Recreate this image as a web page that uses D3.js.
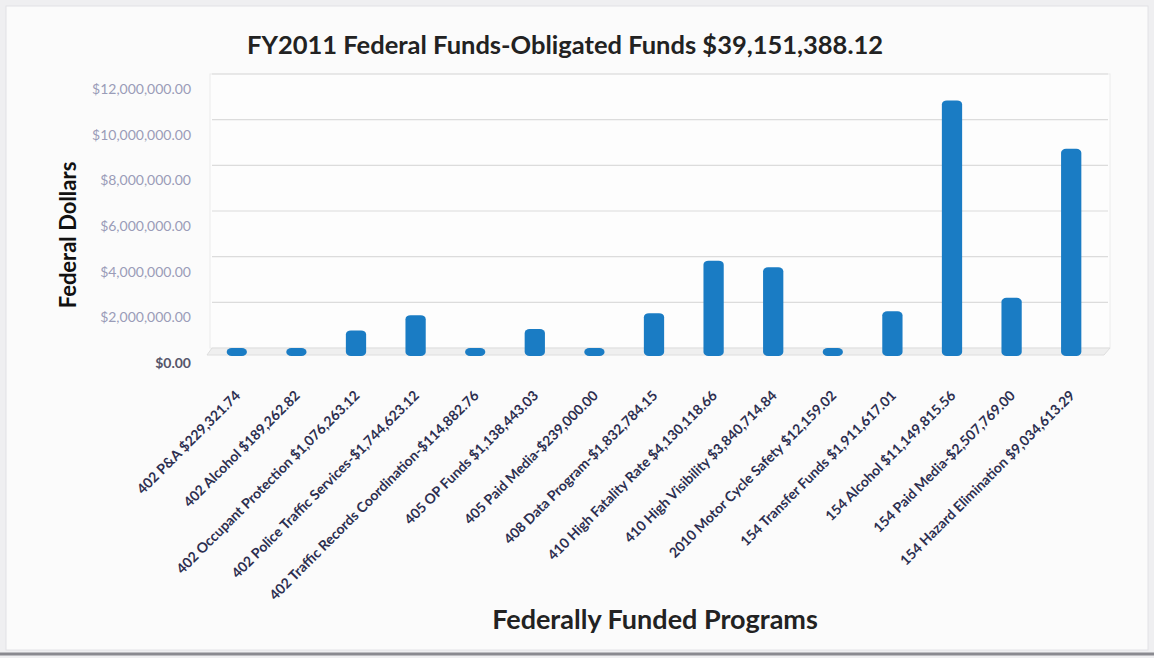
<!DOCTYPE html>
<html lang="en">
<head>
<meta charset="utf-8">
<title>FY2011 Federal Funds</title>
<script src="https://d3js.org/d3.v7.min.js"></script>
<style>
  body { margin: 0; background: #efeff1; }
  text { font-family: Lato, "Open Sans", sans-serif; }
</style>
</head>
<body>
<script>
// chart data
const programs = [
  "402 P&A $229,321.74",
  "402 Alcohol $189,262.82",
  "402 Occupant Protection $1,076,263.12",
  "402 Police Traffic Services-$1,744,623.12",
  "402 Traffic Records Coordination-$114,882.76",
  "405 OP Funds $1,138,443.03",
  "405 Paid Media-$239,000.00",
  "408 Data Program-$1,832,784.15",
  "410 High Fatality Rate $4,130,118.66",
  "410 High Visibility $3,840,714.84",
  "2010 Motor Cycle Safety $12,159.02",
  "154 Transfer Funds $1,911,617.01",
  "154 Alcohol $11,149,815.56",
  "154 Paid Media-$2,507,769.00",
  "154 Hazard Elimination $9,034,613.29"
];
const amounts = [229321.74, 189262.82, 1076263.12, 1744623.12, 114882.76, 1138443.03,
  239000.00, 1832784.15, 4130118.66, 3840714.84, 12159.02, 1911617.01,
  11149815.56, 2507769.00, 9034613.29];
const yTicks = [0, 2000000, 4000000, 6000000, 8000000, 10000000, 12000000];

const w = 1154, h = 658;
const svg = d3.select("body").append("svg").attr("width", w).attr("height", h);

// paper
svg.append("rect").attr("x", 6).attr("y", 6).attr("width", w - 12).attr("height", h - 14)
  .attr("fill", "#fbfbfb").attr("stroke", "#e2e2e6");
svg.append("line").attr("x1", 0).attr("x2", w).attr("y1", h - 4).attr("y2", h - 4)
  .attr("stroke", "#8a8a90").attr("stroke-width", 3);

const x = d3.scaleBand().domain(programs).range([207, 1101]).paddingInner(0.66).paddingOuter(0.33);
const y = d3.scaleLinear().domain([0, 12000000]).range([355, 81]);
const depth = 7; // back wall offset

// back wall
svg.append("rect").attr("x", 210).attr("y", y(12000000) - depth)
  .attr("width", 900).attr("height", y(0) - y(12000000))
  .attr("fill", "#fdfdfd").attr("stroke", "#ececec");

svg.append("g").selectAll("line").data(yTicks.slice(1)).join("line")
  .attr("x1", 212).attr("x2", 1108)
  .attr("y1", d => y(d) - depth).attr("y2", d => y(d) - depth)
  .attr("stroke", "#dcdcdc").attr("stroke-width", 1.2);

// floor
svg.append("path")
  .attr("d", `M207,${y(0)} L1104,${y(0)} L1110,${y(0) - depth} L212,${y(0) - depth} Z`)
  .attr("fill", "#efefef").attr("stroke", "#dedede");

// y axis
const yAxis = d3.axisLeft(y).tickValues(yTicks).tickFormat(d3.format("$,.2f")).tickSize(0).tickPadding(14);
const gy = svg.append("g").attr("transform", "translate(205,8)").call(yAxis);
gy.select(".domain").remove();
gy.selectAll("text").attr("fill", "#9a9cb8").style("font-size", "14px");
gy.selectAll(".tick").filter(d => d === 0).select("text")
  .attr("fill", "#55556a").style("font-weight", "bold");

// bars
svg.append("g").selectAll("rect").data(amounts).join("rect")
  .attr("x", (d, i) => x(programs[i]))
  .attr("y", d => Math.min(y(d), y(0) - 7))
  .attr("width", x.bandwidth())
  .attr("height", d => y(0) + 1 - Math.min(y(d), y(0) - 7))
  .attr("rx", 5).attr("ry", 4)
  .attr("fill", "#1a7cc4");

// x axis
const xAxis = d3.axisBottom(x).tickSize(0).tickPadding(0);
const gx = svg.append("g").attr("transform", `translate(0,${y(0) + 8})`).call(xAxis);
gx.select(".domain").remove();
gx.selectAll("text")
  .attr("text-anchor", "end")
  .attr("dy", "0.35em")
  .attr("transform", "translate(1,30) rotate(-45)")
  .attr("fill", "#2d2f50")
  .style("font-size", "14px")
  .style("font-weight", "bold");

// titles
svg.append("text").attr("x", 565).attr("y", 54).attr("text-anchor", "middle")
  .style("font-size", "25.5px").style("font-weight", "bold").attr("fill", "#222")
  .text("FY2011 Federal Funds-Obligated Funds $39,151,388.12");

svg.append("text").attr("transform", "translate(76,235) rotate(-90)").attr("text-anchor", "middle")
  .style("font-size", "22px").style("font-weight", "bold").attr("fill", "#111")
  .text("Federal Dollars");

svg.append("text").attr("x", 655).attr("y", 629).attr("text-anchor", "middle")
  .style("font-size", "27px").style("font-weight", "bold").attr("fill", "#222")
  .text("Federally Funded Programs");
</script>
</body>
</html>
